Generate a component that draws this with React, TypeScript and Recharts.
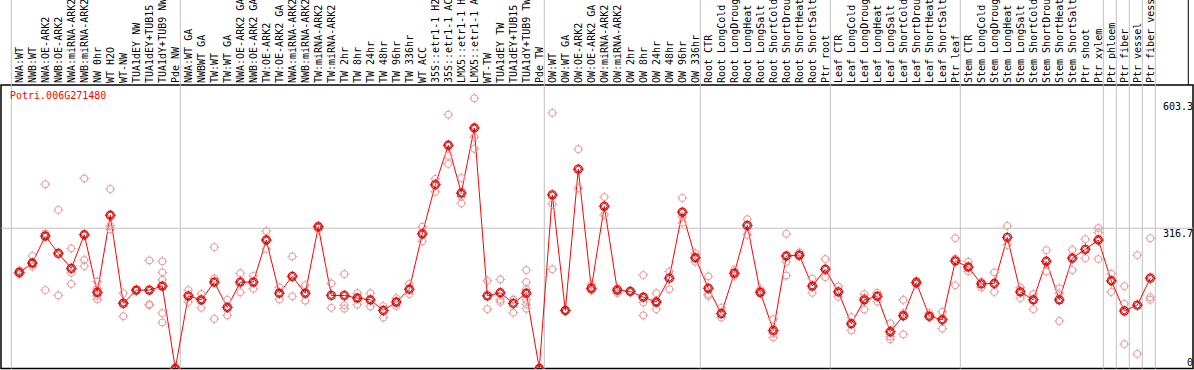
import {
  ComposedChart,
  Line,
  Scatter,
  XAxis,
  YAxis,
  ReferenceLine,
  ReferenceArea,
} from 'recharts';

const categories = [
  'NWA:WT', 'NWB:WT', 'NWA:OE-ARK2', 'NWB:OE-ARK2', 'NWA:miRNA-ARK2', 'NWB:miRNA-ARK2',
  'NW 0hr', 'WT H2O', 'WT-NW', 'TUA1dEY NW', 'TUA1dEY+TUB15 NW', 'TUA1dY+TUB9 NW', 'Pde NW',
  'NWA:WT GA', 'NWBWT GA', 'TW:WT', 'TW:WT GA', 'NWA:OE-ARK2 GA', 'NWB:OE-ARK2 GA',
  'TW:OE-ARK2', 'TW:OE-ARK2 GA', 'NWA:miRNA-ARK2', 'NWB:miRNA-ARK2', 'TW:miRNA-ARK2',
  'TW:miRNA-ARK2', 'TW 2hr', 'TW 8hr', 'TW 24hr', 'TW 48hr', 'TW 96hr', 'TW 336hr',
  'WT ACC', '35S::etr1-1 H2O', '35S::etr1-1 ACC', 'LMX5::etr1-1 H2O', 'LMX5::etr1-1 ACC',
  'WT-TW', 'TUA1dEY TW', 'TUA1dEY+TUB15 TW', 'TUA1dY+TUB9 TW', 'Pde TW',
  'OW:WT', 'OW:WT GA', 'OW:OE-ARK2', 'OW:OE-ARK2 GA', 'OW:miRNA-ARK2', 'OW:miRNA-ARK2',
  'OW 2hr', 'OW 8hr', 'OW 24hr', 'OW 48hr', 'OW 96hr', 'OW 336hr',
  'Root CTR', 'Root LongCold', 'Root LongDrought', 'Root LongHeat', 'Root LongSalt',
  'Root ShortCold', 'Root ShortDrought', 'Root ShortHeat', 'Root ShortSalt', 'Ptr root',
  'Leaf CTR', 'Leaf LongCold', 'Leaf LongDrought', 'Leaf LongHeat', 'Leaf LongSalt',
  'Leaf ShortCold', 'Leaf ShortDrought', 'Leaf ShortHeat', 'Leaf ShortSalt', 'Ptr leaf',
  'Stem CTR', 'Stem LongCold', 'Stem LongDrought', 'Stem LongHeat', 'Stem LongSalt',
  'Stem ShortCold', 'Stem ShortDrought', 'Stem ShortHeat', 'Stem ShortSalt', 'Ptr shoot',
  'Ptr xylem', 'Ptr phloem', 'Ptr fiber', 'Ptr vessel', 'Ptr fiber vessel',
];

const means = [
  217, 238, 299, 260, 226, 302, 172, 346, 147, 177, 177, 186, 0,
  164, 155, 195, 138, 195, 195, 290, 170, 208, 170, 320, 165, 165, 159, 155, 131, 150, 179,
  304, 415, 504, 396, 543, 164, 171, 147, 170, 0,
  392, 131, 450, 181, 366, 177, 174, 161, 150, 204, 353, 250,
  181, 124, 215, 323, 172, 86, 254, 256, 186, 224,
  173, 101, 155, 163, 83, 119, 194, 118, 110, 243,
  229, 191, 192, 296, 173, 155, 242, 155, 249, 269,
  290, 198, 130, 143, 204,
];

const replicates = [
  [221, 213, 217], [254, 230, 238], [416, 305, 177], [358, 165], [271, 216, 191],
  [429, 245, 231], [196, 181, 164, 156], [405, 322, 314], [170, 118, 150], [177, 177],
  [244, 143, 145], [242, 217, 200, 125, 104], [0, 0],
  [177, 150], [168, 137], [274, 203, 112], [155, 120], [215, 172], [209, 180], [310, 270],
  [183, 156], [253, 163], [188, 153], [322, 314], [192, 137], [213, 143, 135], [170, 144],
  [170, 140], [141, 115], [159, 141], [191, 168],
  [320, 287], [428, 399], [573, 480, 462], [430, 388, 373], [610, 522, 496], [198, 134],
  [201, 155, 150], [155, 155, 126], [222, 195, 179, 155, 145, 135], [0, 0],
  [577, 371, 224], [131, 131], [495, 407], [189, 176], [387, 347], [181, 170], [174],
  [211, 149, 120], [170, 134, 150], [219, 179], [385, 342, 329], [260, 241],
  [208, 168, 164], [137, 115], [223, 209], [337, 302], [179, 169], [111, 79, 70],
  [304, 241, 210], [262, 253], [203, 171], [247, 206],
  [185, 162], [116, 86], [168, 133, 160], [171, 151], [102, 72, 66], [155, 125, 77],
  [198, 191], [125, 116], [128, 90], [294, 248, 188],
  [241, 219], [196, 183], [217, 173], [322, 279], [183, 159], [168, 134], [267, 219],
  [181, 107, 170], [268, 222], [292, 249],
  [317, 307, 247], [214, 173], [186, 146, 55], [256, 33], [294, 161, 155],
];

// groups start at these category indices (88 = after the last one)
const groupStarts = [0, 13, 41, 53, 63, 73, 84, 85, 86, 87, 88];
const yTicks = [0, 316.7, 603.3];
const gridValue = 316.7;
const title = 'Potri.006G271480';

const W = 1194;
const H = 370;
const STEP = 13; // px per category
const X_MIN = -1.408;
const X_MAX = X_MIN + (W - 2) / STEP;
const SEP = 8 / STEP;
const FONT = '"DejaVu Sans Mono", monospace';

const chartData = means.map((m, i) => ({ i, mean: m }));
const repData = replicates.flatMap((arr, i) => arr.map((v) => ({ i, v })));
const xTicks = Array.from({ length: categories.length + 1 }, (_, i) => i);

const Ring = ({ cx, cy, r, color, width = 1 }: any) => (
  <g>
    <circle cx={cx} cy={cy} r={r} fill="none" stroke={color} strokeWidth={width} />
    <line x1={cx} y1={cy - r - 1.5} x2={cx} y2={cy - r + 0.5} stroke={color} />
    <line x1={cx} y1={cy + r - 0.5} x2={cx} y2={cy + r + 1.5} stroke={color} />
    <line x1={cx - r - 1.5} y1={cy} x2={cx - r + 0.5} y2={cy} stroke={color} />
    <line x1={cx + r - 0.5} y1={cy} x2={cx + r + 1.5} y2={cy} stroke={color} />
  </g>
);

const RepDot = (props: any) => <Ring cx={props.cx} cy={props.cy} r={3.5} color="#e99a9a" />;

const MeanDot = (props: any) => {
  if (props.cx == null || props.cy == null) return null;
  return (
    <g key={props.index}>
      <Ring cx={props.cx} cy={props.cy} r={4} color="#ff0000" width={1.4} />
      <circle cx={props.cx} cy={props.cy} r={2.8} fill="none" stroke="#600000" strokeWidth={0.8} />
    </g>
  );
};

const CategoryTick = ({ x, y, payload }: any) => {
  const idx = payload.value;
  const label = categories[idx];
  return (
    <g>
      {groupStarts.includes(idx) && (
        <line x1={x - 8} y1={0} x2={x - 8} y2={y} stroke="#c0c0c0" />
      )}
      {idx === categories.length && (
        <line x1={x + 25} y1={0} x2={x + 25} y2={y} stroke="#000" />
      )}
      {label && (
        <text
          x={x + 3.5}
          y={y - 2}
          transform={`rotate(-90 ${x + 3.5} ${y - 2})`}
          textAnchor="start"
          fontSize={10}
          fontFamily={FONT}
          fill="#000"
        >
          {label}
        </text>
      )}
    </g>
  );
};

// value label drawn at the right end of a horizontal reference line
const valueLabel = (value: number) => (props: any) => {
  const vb = props.viewBox || {};
  const x = (vb.x ?? 0) + (vb.width ?? 0);
  const y = vb.y ?? 0;
  return (
    <text
      x={x}
      y={value === 0 ? y - 3 : y + 8.5}
      textAnchor="end"
      fontSize={10}
      fontFamily={FONT}
      fill="#000"
    >
      {value}
    </text>
  );
};

export default function App() {
  return (
    <div style={{ position: 'absolute', left: 0, top: 0, width: W, height: H, background: '#fff' }}>
      <ComposedChart
        width={W}
        height={H}
        data={chartData}
        margin={{ top: 0, right: 1, bottom: 1.5, left: 1 }}
      >
        <XAxis
          dataKey="i"
          type="number"
          orientation="top"
          domain={[X_MIN, X_MAX]}
          allowDataOverflow
          ticks={xTicks}
          interval={0}
          height={85}
          axisLine={false}
          tickLine={false}
          tickSize={0}
          tickMargin={0}
          tick={<CategoryTick />}
        />
        <YAxis type="number" domain={[0, 640]} allowDataOverflow hide />
        {groupStarts.map((g) => (
          <ReferenceLine key={g} x={g - SEP} stroke="#c0c0c0" />
        ))}
        {yTicks.map((t) => (
          <ReferenceLine
            key={t}
            y={t}
            stroke={t === gridValue ? '#c0c0c0' : 'none'}
            label={valueLabel(t)}
          />
        ))}
        <ReferenceArea x1={X_MIN} x2={X_MAX} y1={0} y2={640} fill="none" stroke="#000" strokeWidth={1.5} />
        <Scatter data={repData} dataKey="v" shape={<RepDot />} isAnimationActive={false} />
        <Line
          type="linear"
          dataKey="mean"
          stroke="#ff0000"
          strokeWidth={1}
          dot={<MeanDot />}
          activeDot={false}
          isAnimationActive={false}
        />
      </ComposedChart>
      <div
        style={{
          position: 'absolute',
          left: 10,
          top: 90,
          fontFamily: FONT,
          fontSize: 10,
          color: '#ff0000',
          lineHeight: '12px',
        }}
      >
        {title}
      </div>
    </div>
  );
}
